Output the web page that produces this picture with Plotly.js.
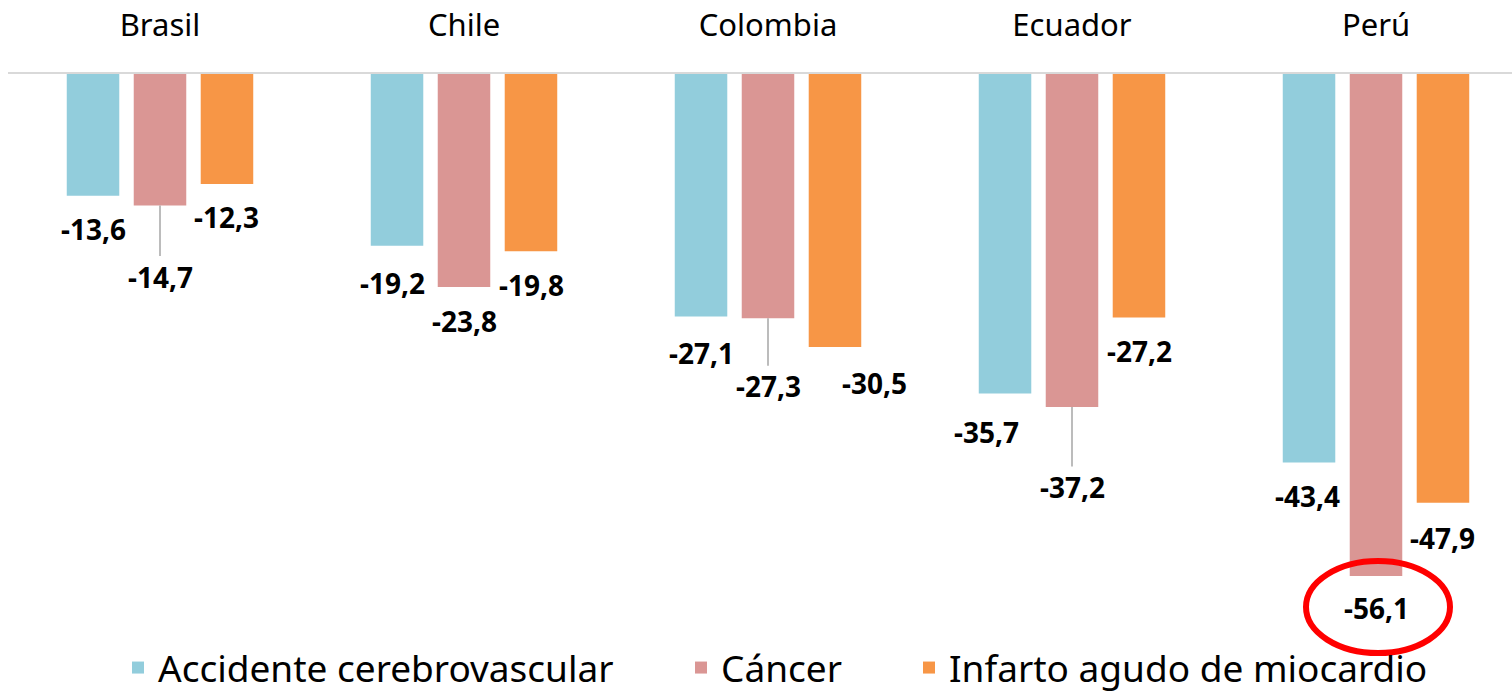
<!DOCTYPE html>
<html>
<head>
<meta charset="utf-8">
<script src="https://cdn.plot.ly/plotly-3.0.1.min.js"></script>
<style>html,body{margin:0;padding:0;background:#fff;}#chart{width:1512px;height:694px;}</style>
</head>
<body>
<div id="chart"></div>
<script>
const categories = ['Brasil', 'Chile', 'Colombia', 'Ecuador', 'Perú'];
const seriesNames = ['Accidente cerebrovascular', 'Cáncer', 'Infarto agudo de miocardio'];
const acv = [-13.6, -19.2, -27.1, -35.7, -43.4];
const cancer = [-14.7, -23.8, -27.3, -37.2, -56.1];
const infarto = [-12.3, -19.8, -30.5, -27.2, -47.9];
const highlightCategory = 'Perú';

const colors = ['#92CDDC', '#DA9694', '#F79646'];
const allSeries = [acv, cancer, infarto];

// label placement: [dx px, dy px below bar end, leader line?]
const labelOffsets = [
  [[0, 33, false], [-5, 37, false], [0, 36, false], [-19, 38, false], [-2, 34, false]],
  [[0, 71, true], [0, 34, false], [0, 68, true], [0, 80, true], [0, 32, false]],
  [[0, 33, false], [1, 34, false], [40, 36, false], [1, 34, false], [0, 35, false]]
];
// legend symbol centres in page pixels
const legendPx = [138, 701, 929];

const W = 1512, H = 694;
const margin = {l: 8, r: 0, t: 74, b: 34, autoexpand: false};
const plotW = W - margin.l - margin.r;
const plotH = H - margin.t - margin.b;
const pxPerUnit = 8.95;
const pxPerCat = 304;

const bargap = 0.339;
const slot = (1 - bargap) / 3;
const fmt = v => v.toFixed(1).replace('.', ',');
const legendIds = ['legend', 'legend2', 'legend3'];

const traces = allSeries.map((vals, k) => ({
  type: 'bar',
  name: seriesNames[k],
  x: categories,
  y: vals,
  marker: {color: colors[k]},
  legend: legendIds[k],
  hoverinfo: 'x+y+name'
}));

const annotations = [];
allSeries.forEach((vals, k) => {
  vals.forEach((v, i) => {
    const [dx, dy, leader] = labelOffsets[k][i];
    const base = {
      x: i + (k - 1) * slot,
      y: v,
      xref: 'x', yref: 'y',
      text: fmt(v),
      font: {family: 'Noto Sans, sans-serif', size: 28, color: '#000', weight: 'bold'}
    };
    if (leader) {
      annotations.push(Object.assign(base, {
        showarrow: true, arrowhead: 0, arrowwidth: 1.5, arrowcolor: '#a6a6a6',
        ax: dx, ay: dy, standoff: 0
      }));
    } else {
      annotations.push(Object.assign(base, {
        showarrow: false, xshift: dx, yshift: -dy
      }));
    }
  });
});

const hi = categories.indexOf(highlightCategory);
const shapes = [{
  type: 'circle', xref: 'x', yref: 'y',
  xsizemode: 'pixel', ysizemode: 'pixel',
  xanchor: hi, yanchor: cancer[hi],
  x0: -70, x1: 74, y0: 15, y1: -77,
  line: {color: '#FF0000', width: 6}
}];

const legendYpx = 668;
const layout = {
  width: W, height: H,
  margin: margin,
  paper_bgcolor: '#fff', plot_bgcolor: '#fff',
  barmode: 'group',
  bargap: bargap,
  bargroupgap: 0.216,
  showlegend: true,
  xaxis: {
    side: 'top', type: 'category',
    range: [-0.5, -0.5 + plotW / pxPerCat],
    showline: true, linecolor: '#d9d9d9', linewidth: 2,
    showgrid: false, zeroline: false,
    ticks: 'outside', ticklen: 24, tickcolor: 'rgba(0,0,0,0)',
    tickfont: {family: 'Noto Sans, sans-serif', size: 31, color: '#000'}
  },
  yaxis: {
    range: [-plotH / pxPerUnit, 0], visible: false, showgrid: false, zeroline: false, fixedrange: true
  },
  annotations: annotations,
  shapes: shapes
};
legendIds.forEach((id, k) => {
  layout[id] = {
    orientation: 'h',
    xref: 'container', yref: 'container',
    x: (legendPx[k] - 20) / W, xanchor: 'left',
    y: 1 - legendYpx / H, yanchor: 'middle',
    font: {family: 'Noto Sans, sans-serif', size: 37, color: '#000'},
    bgcolor: 'rgba(0,0,0,0)'
  };
});

Plotly.newPlot('chart', traces, layout, {displayModeBar: false});
</script>
</body>
</html>
